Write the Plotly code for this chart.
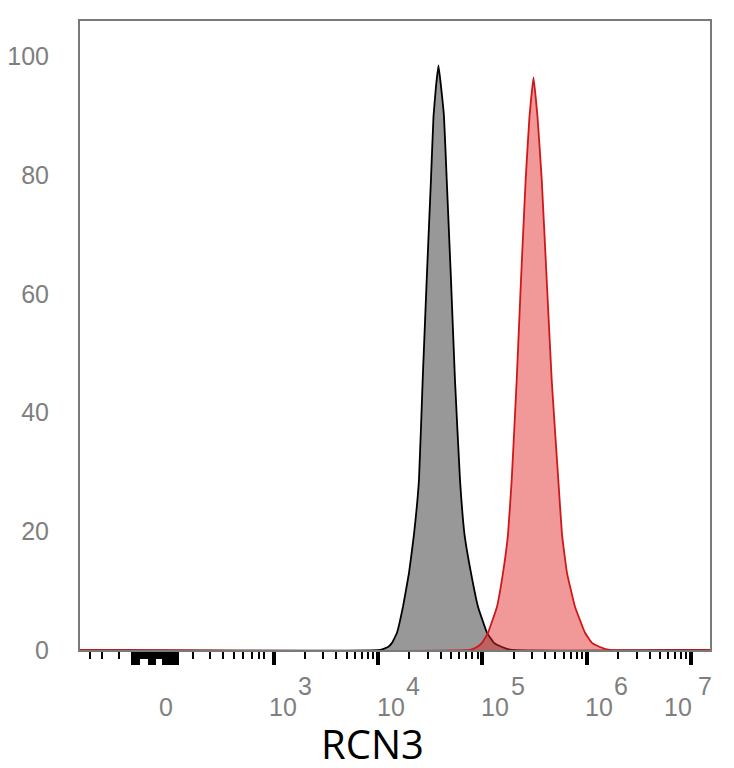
import math
import plotly.graph_objects as go

# RCN3 staining histogram: isotype (grey) vs RCN3 (red)

# --- data ---
iso_x = [14, 10450, 12470, 13620, 15200, 17360, 19820, 22120, 24700, 26800, 29280, 32190, 34010, 35950,
         37980, 40130, 42880, 45500, 50030, 54640, 61020, 67390, 77770, 90780, 110700, 129200, 154100, 192100, 1.6e7]
iso_y = [0, 0, 0.5, 1.2, 2.9, 7.3, 13.0, 19.5, 28.7, 45.5, 62.4, 79.4, 89.9, 95.0,
         98.5, 95.0, 89.9, 79.4, 62.4, 45.5, 28.7, 19.5, 13.0, 7.3, 2.9, 1.2, 0.5, 0, 0]

rcn3_x = [14, 76060, 88770, 99100, 113150, 138000, 157500, 175900, 190900, 213100, 234300, 259900, 282500, 295300,
          308600, 322500, 337100, 369800, 413000, 461100, 533300, 578700, 646000, 770900, 961200, 1121000, 1337000, 1668000, 1.6e7]
rcn3_y = [0, 0, 0.5, 1.2, 2.9, 7.3, 13.0, 19.5, 28.7, 45.5, 62.4, 79.4, 89.9, 93.5,
          96.5, 93.5, 89.9, 79.4, 62.4, 45.5, 28.7, 19.5, 13.0, 7.3, 2.9, 1.2, 0.5, 0, 0]

y_ticks = [0, 20, 40, 60, 80, 100]

decades = [1e3, 1e4, 1e5, 1e6, 1e7]
exponents = ["3", "4", "5", "6", "7"]
zero_label = "0"
zero_label_pos = 93  # where the "0" label sits on the display scale

# ticks of the compressed linear region around zero
zero_major = [45.5, 48, 50.5, 66, 69, 72, 89, 92, 95, 98, 102, 106, 110, 114, 118]
zero_minor = [17.4, 22.7, 33.0] + [45 * 1.025 ** i for i in range(40)] + \
             [169, 245, 327, 417, 509, 621, 725, 809]
log_minor = [m * 10 ** k for k in range(3, 7) for m in range(2, 10)]

fig = go.Figure()

fig.add_trace(go.Scatter(
    x=iso_x, y=iso_y, mode="lines", fill="tozeroy",
    line={'color': "black", 'width': 1.8, 'shape': "spline", 'smoothing': 0.3},
    fillcolor="#989898", showlegend=False, hoverinfo="skip"))

fig.add_trace(go.Scatter(
    x=rcn3_x, y=rcn3_y, mode="lines", fill="tozeroy",
    line={'color': "#d01818", 'width': 1.8, 'shape': "spline", 'smoothing': 0.3},
    fillcolor="rgba(226,40,40,0.48)", showlegend=False, hoverinfo="skip"))

fig.update_xaxes(
    type="log", range=[1.146, 7.180], automargin=False,
    showline=True, mirror=True, linecolor="#7a7a7a", linewidth=2,
    showgrid=False, zeroline=False,
    ticks="outside", tickvals=decades + zero_major, ticklen=13, tickwidth=3.5, tickcolor="black",
    showticklabels=False,
    minor={'tickvals': log_minor + zero_minor, 'ticks': "outside", 'ticklen': 7,
           'tickwidth': 1.8, 'tickcolor': "black", 'showgrid': False})

fig.update_yaxes(
    range=[0, 106], automargin=False,
    showline=True, mirror=True, linecolor="#7a7a7a", linewidth=2,
    showgrid=False, zeroline=False,
    tickvals=y_ticks, ticks="", ticklabelstandoff=24,
    tickfont={'size': 25, 'color': "#7f7f7f", 'family': "Liberation Sans"})

lab_font = {'size': 25, 'color': "#7f7f7f", 'family': "Liberation Sans"}

fig.add_annotation(x=math.log10(zero_label_pos), xref="x", y=-0.0914, yref="paper",
                   text=zero_label, showarrow=False, xanchor="center", yanchor="middle",
                   font=lab_font)

base_shift = [-7, -3, -3, -4, -29]
exp_shift = [22, 26, 27, 25, 5]
for d, e, bs, es in zip(decades, exponents, base_shift, exp_shift):
    k = math.log10(d)
    fig.add_annotation(x=k, xref="x", y=-0.0914, yref="paper", text="10",
                       showarrow=False, xanchor="left", yanchor="middle",
                       font=lab_font, xshift=bs)
    fig.add_annotation(x=k, xref="x", y=-0.0572, yref="paper", text=e,
                       showarrow=False, xanchor="left", yanchor="middle",
                       font=lab_font, xshift=es)

fig.add_annotation(x=0.4635, xref="paper", y=-0.148, yref="paper", text="RCN3",
                   showarrow=False, xanchor="center", yanchor="middle",
                   font={'size': 40, 'color': "black", 'family': "Open Sans"})

# the page puts an 8px body margin around the figure, so trim the size to fit the window
fig.update_layout(
    width=726, height=760,
    margin={'l': 72, 'r': 24, 't': 13, 'b': 118},
    paper_bgcolor="white", plot_bgcolor="white")

fig.write_html("out.html")
